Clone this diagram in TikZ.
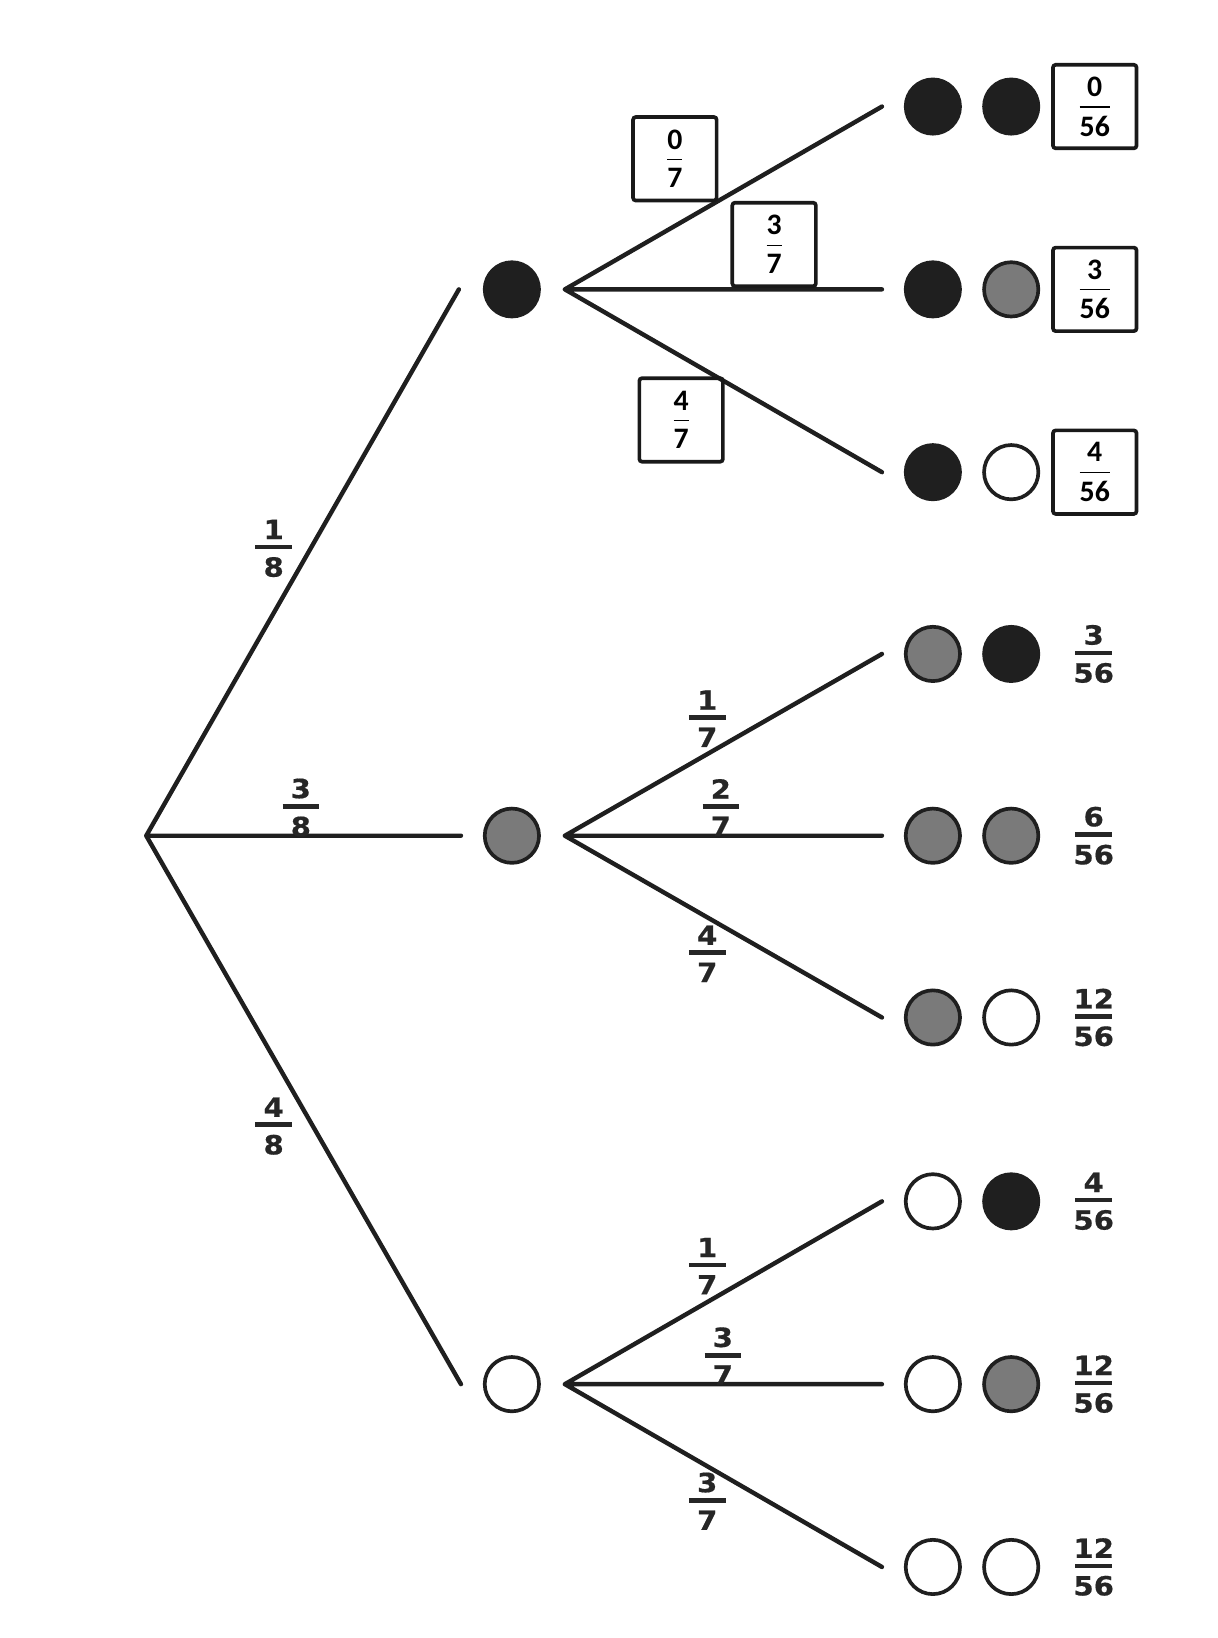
\documentclass[tikz,border=0pt]{standalone}
\usepackage{fontspec}
\newfontfamily\probfont{DejaVu Sans Bold}[FakeStretch=1.1,FakeBold=0.6]
\newfontfamily\boxfont{Carlito Bold}
\usetikzlibrary{shapes,positioning,calc}
\tikzstyle{ball}=[circle,
                  inner sep=0pt,
                  minimum size=1.04cm,
                  line width=2pt,
                  draw=black!88]
\tikzstyle{blk}=[ball,fill=black!88]
\tikzstyle{gry}=[ball,fill=black!52]
\tikzstyle{wht}=[ball,fill=white]
\tikzstyle{branch}=[line width=2.4pt,line cap=round,draw=black!88]
\tikzstyle{prob}=[inner sep=0pt,text=black!85,
                  font=\probfont\fontsize{14.4}{16}\selectfont]
\tikzstyle{probbox}=[draw=black!90,
                     line width=2pt,
                     rounded corners=1.5pt,
                     minimum width=1.6cm,
                     minimum height=1.6cm,
                     inner sep=0pt,
                     font=\boxfont\fontsize{16.2}{18}\selectfont]
\newcommand{\pfrac}[2]{\vbox{\offinterlineskip\halign{\hfil##\hfil\cr#1\cr\noalign{\kern3.1pt}\rule{0.7cm}{2.5pt}\cr\noalign{\kern4.2pt}#2\cr}}}
\newcommand{\bfrac}[2]{\vbox{\offinterlineskip\halign{\hfil##\hfil\cr#1\cr\noalign{\kern5.3pt\hrule height 0.75pt\kern4.5pt}#2\cr}}}

\begin{document}
\begin{tikzpicture}[x=0.02cm,y=-0.02cm]
    \useasboundingbox (0,0) rectangle (1165,1568);
    % first draw
    \coordinate (root) at (140,800);
    \node[blk] (n1) at (490,277) {};
    \node[gry] (n2) at (490,800) {};
    \node[wht] (n3) at (490,1325) {};
    % second draw
    \node[blk] (r1a) at (893,102) {};
    \node[blk,node distance=1.5cm,right of=r1a] (r1b) {};
    \node[blk] (r2a) at (893,277) {};
    \node[gry,node distance=1.5cm,right of=r2a] (r2b) {};
    \node[blk] (r3a) at (893,452) {};
    \node[wht,node distance=1.5cm,right of=r3a] (r3b) {};
    \node[gry] (r4a) at (893,626) {};
    \node[blk,node distance=1.5cm,right of=r4a] (r4b) {};
    \node[gry] (r5a) at (893,800) {};
    \node[gry,node distance=1.5cm,right of=r5a] (r5b) {};
    \node[gry] (r6a) at (893,974) {};
    \node[wht,node distance=1.5cm,right of=r6a] (r6b) {};
    \node[wht] (r7a) at (893,1150) {};
    \node[blk,node distance=1.5cm,right of=r7a] (r7b) {};
    \node[wht] (r8a) at (893,1325) {};
    \node[gry,node distance=1.5cm,right of=r8a] (r8b) {};
    \node[wht] (r9a) at (893,1500) {};
    \node[wht,node distance=1.5cm,right of=r9a] (r9b) {};
    % results
    \node[probbox,node distance=1.6cm,right of=r1b] (p1) {\bfrac{0}{56}};
    \node[probbox,node distance=1.6cm,right of=r2b] (p2) {\bfrac{3}{56}};
    \node[probbox,node distance=1.6cm,right of=r3b] (p3) {\bfrac{4}{56}};
    \node[prob,node distance=1.58cm,right of=r4b] (p4) {\pfrac{3}{56}};
    \node[prob,node distance=1.58cm,right of=r5b] (p5) {\pfrac{6}{56}};
    \node[prob,node distance=1.58cm,right of=r6b] (p6) {\pfrac{12}{56}};
    \node[prob,node distance=1.58cm,right of=r7b] (p7) {\pfrac{4}{56}};
    \node[prob,node distance=1.58cm,right of=r8b] (p8) {\pfrac{12}{56}};
    \node[prob,node distance=1.58cm,right of=r9b] (p9) {\pfrac{12}{56}};
    % branch ends
    \coordinate (e1) at ([xshift=-0.46cm]n1.west);
    \coordinate (e2) at ([xshift=-0.42cm]n2.west);
    \coordinate (e3) at ([xshift=-0.42cm]n3.west);
    \coordinate (s1) at ([xshift=0.46cm]n1.east);
    \coordinate (s2) at ([xshift=0.46cm]n2.east);
    \coordinate (s3) at ([xshift=0.46cm]n3.east);
    \coordinate (t1) at ([xshift=-0.42cm]r1a.west);
    \coordinate (t2) at ([xshift=-0.42cm]r2a.west);
    \coordinate (t3) at ([xshift=-0.42cm]r3a.west);
    \coordinate (t4) at ([xshift=-0.42cm]r4a.west);
    \coordinate (t5) at ([xshift=-0.42cm]r5a.west);
    \coordinate (t6) at ([xshift=-0.42cm]r6a.west);
    \coordinate (t7) at ([xshift=-0.42cm]r7a.west);
    \coordinate (t8) at ([xshift=-0.42cm]r8a.west);
    \coordinate (t9) at ([xshift=-0.42cm]r9a.west);
    \draw[branch] (root) -- (e1) (root) -- (e2) (root) -- (e3);
    \draw[branch] (s1) -- (t1) (s1) -- (t2) (s1) -- (t3);
    \draw[branch] (s2) -- (t4) (s2) -- (t5) (s2) -- (t6);
    \draw[branch] (s3) -- (t7) (s3) -- (t8) (s3) -- (t9);
    % branch labels
    \node[prob] (q1) at (262,525) {\pfrac{1}{8}};
    \node[prob] (q2) at (288,773) {\pfrac{3}{8}};
    \node[prob] (q3) at (262,1078) {\pfrac{4}{8}};
    \node[probbox] (q11) at (646,152) {\bfrac{0}{7}};
    \node[probbox] (q12) at (741,234) {\bfrac{3}{7}};
    \node[probbox] (q13) at (652,402) {\bfrac{4}{7}};
    \node[prob] (q21) at (677,688) {\pfrac{1}{7}};
    \node[prob] (q22) at (690,773) {\pfrac{2}{7}};
    \node[prob] (q23) at (677,913) {\pfrac{4}{7}};
    \node[prob] (q31) at (677,1212) {\pfrac{1}{7}};
    \node[prob] (q32) at (692,1298) {\pfrac{3}{7}};
    \node[prob] (q33) at (677,1437) {\pfrac{3}{7}};
\end{tikzpicture}
\end{document}
